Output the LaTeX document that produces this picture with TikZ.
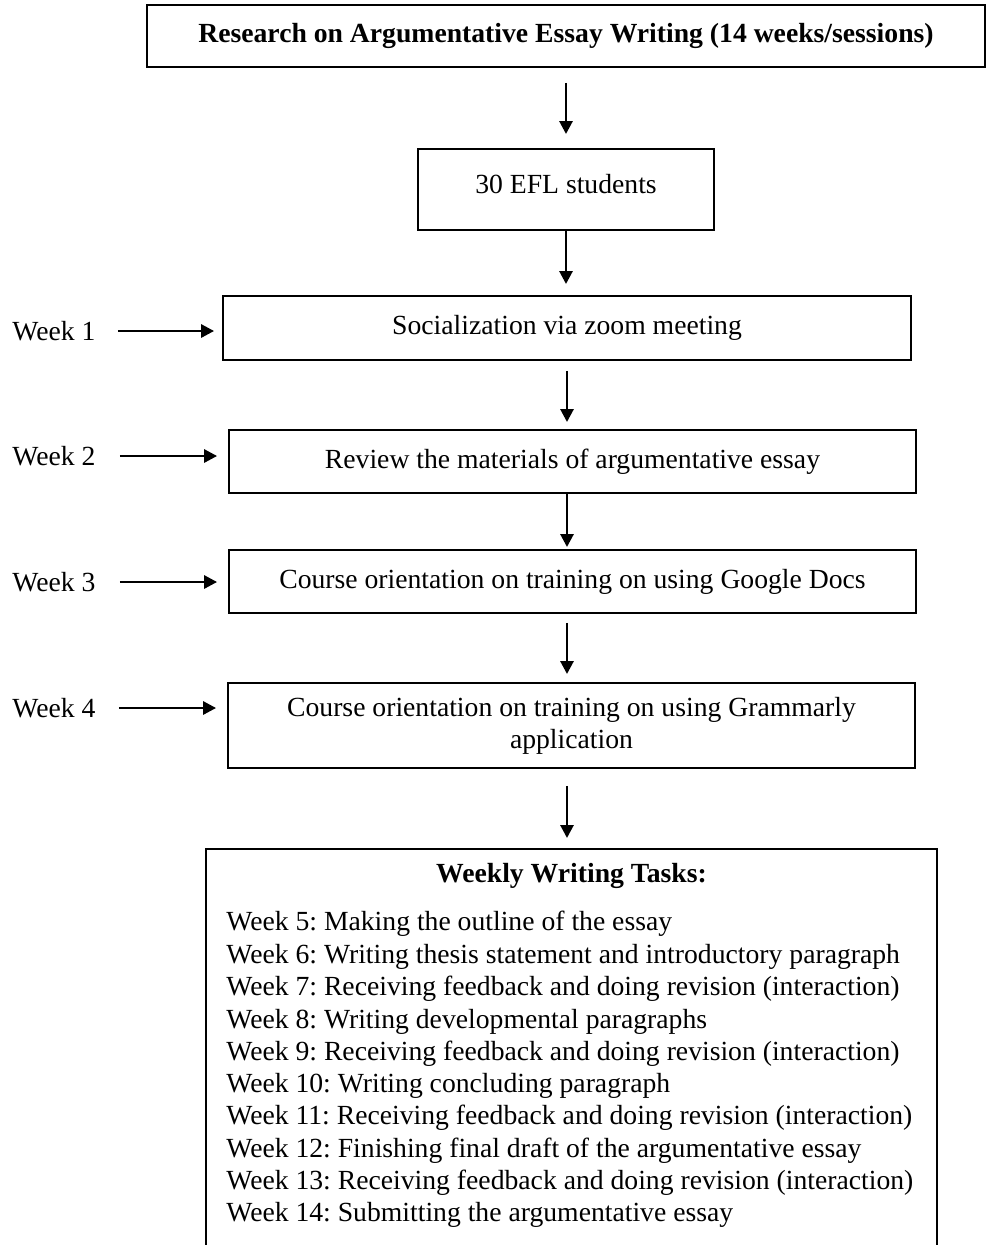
\documentclass[tikz,border=0pt]{standalone}
\usepackage{fontspec}
\setmainfont{Liberation Serif}
\usetikzlibrary{arrows.meta,positioning,calc}
\frenchspacing

\begin{document}
\begin{tikzpicture}[
  x=0.02cm, y=-0.02cm,
  txt/.style={font=\fontsize{15.75}{18.3}\selectfont},
  box/.style={draw, line width=1.1pt, txt, align=center, inner sep=0pt},
  stage/.style={box, minimum width=13.74cm, minimum height=1.26cm},
  week/.style={txt, inner sep=0pt, anchor=west},
  task/.style={txt, inner sep=0pt, anchor=base west},
  arr/.style={line width=1.6pt, -{Triangle[length=0.26cm,width=0.26cm]}}
]
\useasboundingbox (0,0) rectangle (988,1245);
% main column
\node[box, font=\fontsize{15.75}{18.3}\selectfont\bfseries, minimum width=16.76cm, minimum height=1.24cm] (title) at (566,36) {Research on Argumentative Essay Writing (14 weeks/sessions)};
\node[box, minimum width=5.92cm, minimum height=1.62cm, text depth=0.24cm] (efl) at (566,189.5) {30 EFL students};
\node[stage, minimum width=13.76cm, minimum height=1.28cm] (soc) at (567,328) {Socialization via zoom meeting};
\node[stage] (review) at (572.5,461.5) {Review the materials of argumentative essay};
\node[stage] (gdocs) at (572.5,581.5) {Course orientation on training on using Google Docs};
\node[stage, minimum height=1.7cm] (gram) at (571.5,725.5) {Course orientation on training on using Grammarly\\application};
\node[draw, line width=1.1pt, minimum width=14.62cm, minimum height=8.3cm, anchor=north] (tasks) at (571.5,848) {};
\node[txt, font=\fontsize{15.75}{18.3}\selectfont\bfseries] (taskhead) at (571.5,876) {Weekly Writing Tasks:};
\node[task] (t5) at (226,930) {Week 5: Making the outline of the essay};
\node[task] (t6) at (226,963) {Week 6: Writing thesis statement and introductory paragraph};
\node[task] (t7) at (226,995) {Week 7: Receiving feedback and doing revision (interaction)};
\node[task] (t8) at (226,1028) {Week 8: Writing developmental paragraphs};
\node[task] (t9) at (226,1060) {Week 9: Receiving feedback and doing revision (interaction)};
\node[task] (t10) at (226,1092) {Week 10: Writing concluding paragraph};
\node[task] (t11) at (226,1124) {Week 11: Receiving feedback and doing revision (interaction)};
\node[task] (t12) at (226,1157) {Week 12: Finishing final draft of the argumentative essay};
\node[task] (t13) at (226,1189) {Week 13: Receiving feedback and doing revision (interaction)};
\node[task] (t14) at (226,1221) {Week 14: Submitting the argumentative essay};
% week labels
\node[week] (w1) at (12,331) {Week 1};
\node[week] (w2) at (12,456) {Week 2};
\node[week] (w3) at (12,582) {Week 3};
\node[week] (w4) at (12,708) {Week 4};
% arrows
\draw[arr, shorten <=0.3cm, shorten >=0.28cm] (title.south) -- (efl.north);
\draw[arr, shorten >=0.22cm] (efl.south) -- (efl.south |- soc.north);
\draw[arr, shorten <=0.2cm, shorten >=0.14cm] (soc.south) -- (soc.south |- review.north);
\draw[arr, shorten >=0.04cm] (soc.south |- review.south) -- (soc.south |- gdocs.north);
\draw[arr, shorten <=0.18cm, shorten >=0.16cm] (soc.south |- gdocs.south) -- (soc.south |- gram.north);
\draw[arr, shorten <=0.34cm, shorten >=0.2cm] (soc.south |- gram.south) -- (soc.south |- tasks.north);
\draw[arr, shorten <=0.44cm, shorten >=0.16cm] (w1.east) -- (w1.east -| soc.west);
\draw[arr, shorten <=0.48cm, shorten >=0.22cm] (w2.east) -- (w2.east -| review.west);
\draw[arr, shorten <=0.48cm, shorten >=0.22cm] (w3.east) -- (w3.east -| gdocs.west);
\draw[arr, shorten <=0.46cm, shorten >=0.22cm] (w4.east) -- (w4.east -| gram.west);
\end{tikzpicture}
\end{document}
